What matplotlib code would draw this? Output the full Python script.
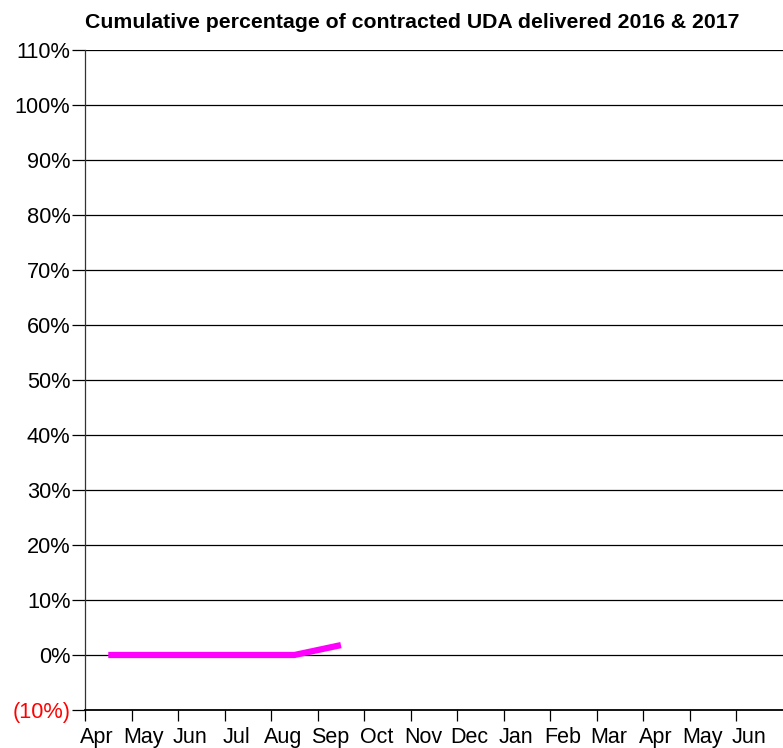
import numpy as np
import matplotlib.pyplot as plt
from matplotlib.ticker import FixedLocator, FuncFormatter

plt.rcParams['font.family'] = ['Liberation Sans', 'DejaVu Sans']

# Data
months = ['Apr', 'May', 'Jun', 'Jul', 'Aug', 'Sep', 'Oct', 'Nov', 'Dec',
          'Jan', 'Feb', 'Mar', 'Apr', 'May', 'Jun']
delivered = [0.0, 0.0, 0.0, 0.0, 0.0, 1.8]  # cumulative % (Apr..Sep)
y_ticks = list(range(-10, 111, 10))

fig = plt.figure(figsize=(7.83, 7.48), dpi=100)
ax = fig.add_axes([85 / 783, 1 - 710 / 748, 1 - 85 / 783, (710 - 50) / 748])

x = np.arange(len(delivered))
ax.plot(x, delivered, color='#FF00FF', linewidth=4.5, solid_capstyle='butt', zorder=3)

ax.set_xlim(-0.5, len(months) - 0.5)
ax.set_ylim(-10, 110)

# gridlines
for v in y_ticks:
    if v == -10:
        continue
    ax.axhline(v, color='black', linewidth=0.9, zorder=1)

# y axis
ax.set_yticks(y_ticks)
def pct(v, pos):
    return f'({abs(int(v))}%)' if v < 0 else f'{int(v)}%'
ax.yaxis.set_major_formatter(FuncFormatter(pct))
ax.tick_params(axis='y', length=9.5, width=0.9, labelsize=15.7, pad=1)
for lbl, v in zip(ax.get_yticklabels(), y_ticks):
    if v < 0:
        lbl.set_color('red')

# x axis: ticks at boundaries, labels slightly left of centers
ax.xaxis.set_major_locator(FixedLocator(np.arange(len(months)) - 0.5))
ax.xaxis.set_major_formatter(FuncFormatter(lambda v, p: ''))
ax.xaxis.set_minor_locator(FixedLocator(np.arange(len(months)) - 0.24))
ax.set_xticklabels(months, minor=True)
ax.tick_params(axis='x', which='major', length=8, width=0.9)
ax.tick_params(axis='x', which='minor', length=0, labelsize=15.5, pad=12)

for s in ['top', 'right']:
    ax.spines[s].set_visible(False)
ax.spines['left'].set_color('#333333')
ax.spines['left'].set_linewidth(0.9)
ax.spines['bottom'].set_linewidth(1.3)

fig.text(412 / 783, 1 - 22 / 748, 'Cumulative percentage of contracted UDA delivered 2016 & 2017',
         ha='center', va='center', fontsize=15.3, fontweight='bold')

fig.savefig('out.png', dpi=100)
